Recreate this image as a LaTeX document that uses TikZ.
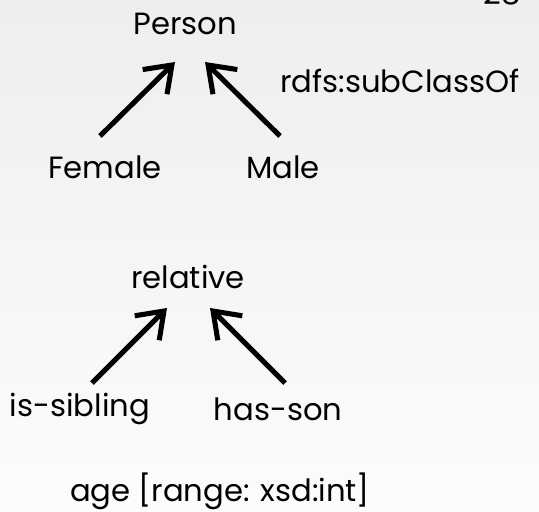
\documentclass[tikz,border=0pt]{standalone}
\usepackage{fontspec}
\setmainfont{Poppins}
\usetikzlibrary{arrows.meta}
\definecolor{bgtop}{RGB}{238,238,238}
\definecolor{bgbot}{RGB}{252,252,252}
\tikzset{
  lbl/.style={inner sep=0.75pt, font=\fontsize{23}{27}\selectfont},
  isa/.style={line width=3.8pt, -{Straight Barb[length=18pt,width=26pt]}}
}
\begin{document}
\begin{tikzpicture}[x=0.75pt,y=0.75pt,yscale=-1,xscale=1]
%set diagram left start at 0, and has height of 511
\clip (0,0) rectangle (539,511);
\shade [top color=bgtop, bottom color=bgbot] (0,0) rectangle (539,511);

% Text Node
\node (person) [lbl] at (185,24) {Person};
\node (female) [lbl] at (105,167) {Female};
\node (male) [lbl] at (283,167) {Male};
\node (subcls) [lbl] at (400,81) {rdfs:subClassOf};
\node (relative) [lbl] at (188,277) {relative};
\node (sibling) [lbl] at (80,409) {is-sibling};
\node (hasson) [lbl] at (278,409) {has-son};
\node (age) [lbl] at (220,491) {age [range: xsd:int]};
\node (pagenum) [lbl] at (502,-6) {28};

%arrow ends
\coordinate (female-up) at (100,136);
\coordinate (male-up) at (280,136);
\coordinate (person-l) at (175,62);
\coordinate (person-r) at (205,62);
\coordinate (sibling-up) at (92,383);
\coordinate (hasson-up) at (285,383);
\coordinate (relative-l) at (167,308);
\coordinate (relative-r) at (210,308);

%Straight Lines
\draw [isa] (female-up) -- (person-l);
\draw [isa] (male-up) -- (person-r);
\draw [isa] (sibling-up) -- (relative-l);
\draw [isa] (hasson-up) -- (relative-r);

\end{tikzpicture}
\end{document}
